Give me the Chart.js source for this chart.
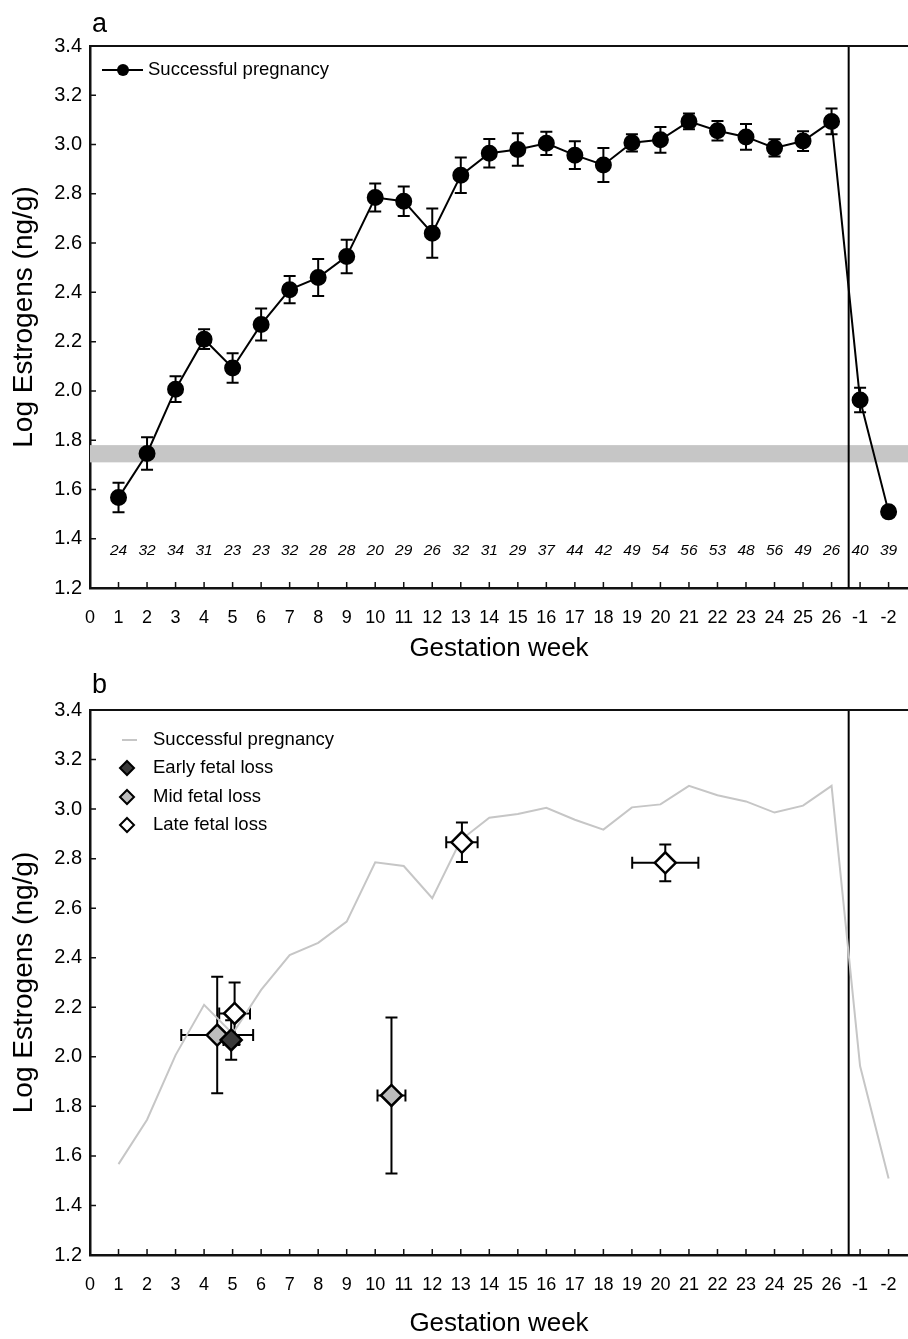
<!DOCTYPE html>
<html>
<head>
<meta charset="utf-8">
<script src="https://cdn.jsdelivr.net/npm/chart.js@4.4.0/dist/chart.umd.min.js"></script>
<style>
  html, body { margin: 0; padding: 0; background: #fff; }
  .panel { position: absolute; left: 0; }
</style>
</head>
<body>
<div class="panel" style="top:0"><canvas id="chartA" width="908" height="664"></canvas></div>
<div class="panel" style="top:664px"><canvas id="chartB" width="908" height="675"></canvas></div>
<script>
// tick labels along the x axis (position 0..28)
const weekLabels = ["0", "1", "2", "3", "4", "5", "6", "7", "8", "9", "10", "11", "12", "13",
  "14", "15", "16", "17", "18", "19", "20", "21", "22", "23", "24", "25", "26", "-1", "-2"];

// successful pregnancy: weeks 1..26 then -1, -2 (post partum)
const meanLogE = [1.567, 1.746, 2.007, 2.21, 2.093, 2.27, 2.411, 2.46, 2.546, 2.785, 2.77, 2.64,
  2.875, 2.965, 2.98, 3.005, 2.957, 2.917, 3.007, 3.019, 3.094, 3.056, 3.031, 2.986, 3.014, 3.094,
  1.963, 1.509];
const semLogE = [0.06, 0.066, 0.052, 0.04, 0.06, 0.065, 0.055, 0.075, 0.068, 0.057, 0.06, 0.1,
  0.072, 0.058, 0.066, 0.047, 0.056, 0.069, 0.035, 0.052, 0.032, 0.04, 0.052, 0.035, 0.04, 0.052,
  0.05, 0.015];
const nCounts = [24, 32, 34, 31, 23, 23, 32, 28, 28, 20, 29, 26, 32, 31, 29, 37, 44, 42, 49, 54,
  56, 53, 48, 56, 49, 26, 40, 39];

// fetal loss groups (panel b)
const earlyWeek = [4.95], earlyLogE = [2.068], earlyWeekErr = [0.27], earlyLogErr = [0.08];
const midWeek = [4.46, 10.57], midLogE = [2.088, 1.844], midWeekErr = [1.26, 0.49], midLogErr = [0.235, 0.315];
const lateWeek = [5.07, 13.04, 20.17], lateLogE = [2.175, 2.866, 2.783];
const lateWeekErr = [0.54, 0.55, 1.16], lateLogErr = [0.125, 0.08, 0.074];

// baseline (non-pregnant) band and the delivery boundary
const bandLow = 1.71, bandHigh = 1.78;
const boundary = 26.6;
const nLabelLevel = 1.352;

const FONT = "'Liberation Sans', Arial, sans-serif";
const succPts = meanLogE.map((v, i) => ({ x: i + 1, y: v }));
const toPts = (xs, ys) => xs.map((x, i) => ({ x: x, y: ys[i] }));

function makeDecor(cfg) {
  return {
    id: "decor",
    beforeDatasetsDraw(chart) {
      const { ctx, chartArea: a, scales: { x, y } } = chart;
      ctx.save();
      if (cfg.band) {
        const yt = y.getPixelForValue(bandHigh), yb = y.getPixelForValue(bandLow);
        ctx.fillStyle = "#c6c6c6";
        ctx.fillRect(a.left, yt, a.right - a.left, yb - yt);
      }
      // boundary between pregnancy weeks and post-partum weeks
      const bx = x.getPixelForValue(boundary);
      ctx.strokeStyle = "#000";
      ctx.lineWidth = 2;
      ctx.beginPath();
      ctx.moveTo(bx, a.top);
      ctx.lineTo(bx, a.bottom);
      ctx.stroke();

      // error bars, drawn behind the markers
      ctx.lineWidth = 2;
      chart.data.datasets.forEach(ds => {
        ds.data.forEach((p, i) => {
          const px = x.getPixelForValue(p.x), py = y.getPixelForValue(p.y);
          const cap = 6;
          if (ds.errY) {
            const t = y.getPixelForValue(p.y + ds.errY[i]), b = y.getPixelForValue(p.y - ds.errY[i]);
            ctx.beginPath();
            ctx.moveTo(px, t); ctx.lineTo(px, b);
            ctx.moveTo(px - cap, t); ctx.lineTo(px + cap, t);
            ctx.moveTo(px - cap, b); ctx.lineTo(px + cap, b);
            ctx.stroke();
          }
          if (ds.errX) {
            const l = x.getPixelForValue(p.x - ds.errX[i]), r = x.getPixelForValue(p.x + ds.errX[i]);
            ctx.beginPath();
            ctx.moveTo(l, py); ctx.lineTo(r, py);
            ctx.moveTo(l, py - cap); ctx.lineTo(l, py + cap);
            ctx.moveTo(r, py - cap); ctx.lineTo(r, py + cap);
            ctx.stroke();
          }
        });
      });
      ctx.restore();
    },
    afterDraw(chart) {
      const { ctx, chartArea: a, scales: { x, y } } = chart;
      ctx.save();
      ctx.strokeStyle = "#111";
      ctx.lineWidth = 2;
      // top frame line
      ctx.beginPath();
      ctx.moveTo(a.left, a.top);
      ctx.lineTo(a.right, a.top);
      ctx.stroke();
      // inward tick marks
      ctx.lineWidth = 1.5;
      ctx.beginPath();
      weekLabels.forEach((_, i) => {
        const px = x.getPixelForValue(i);
        ctx.moveTo(px, a.bottom);
        ctx.lineTo(px, a.bottom - 6);
      });
      y.ticks.forEach(t => {
        const py = y.getPixelForValue(t.value);
        ctx.moveTo(a.left, py);
        ctx.lineTo(a.left + 6, py);
      });
      ctx.stroke();

      ctx.fillStyle = "#000";
      if (cfg.counts) {
        ctx.font = "italic 15.5px " + FONT;
        ctx.textAlign = "center";
        ctx.textBaseline = "middle";
        nCounts.forEach((n, i) => {
          ctx.fillText(String(n), x.getPixelForValue(i + 1), y.getPixelForValue(nLabelLevel));
        });
      }
      // panel letter
      ctx.font = "27px " + FONT;
      ctx.textAlign = "left";
      ctx.textBaseline = "alphabetic";
      ctx.fillText(cfg.letter, 92, cfg.letterY);

      // legend
      ctx.font = "18.5px " + FONT;
      ctx.textBaseline = "middle";
      cfg.legend.forEach(item => {
        if (item.kind === "lineDot") {
          ctx.strokeStyle = "#000";
          ctx.lineWidth = 2;
          ctx.beginPath();
          ctx.moveTo(102, item.y); ctx.lineTo(143, item.y);
          ctx.stroke();
          ctx.beginPath();
          ctx.arc(123, item.y, 6, 0, Math.PI * 2);
          ctx.fill();
          ctx.fillText(item.text, 148, item.y);
        } else if (item.kind === "line") {
          ctx.strokeStyle = "#c6c6c6";
          ctx.lineWidth = 2;
          ctx.beginPath();
          ctx.moveTo(122, item.y); ctx.lineTo(137, item.y);
          ctx.stroke();
          ctx.fillText(item.text, 153, item.y);
        } else {
          const r = 7;
          ctx.beginPath();
          ctx.moveTo(127, item.y - r); ctx.lineTo(127 + r, item.y);
          ctx.lineTo(127, item.y + r); ctx.lineTo(127 - r, item.y);
          ctx.closePath();
          ctx.fillStyle = item.fill;
          ctx.fill();
          ctx.strokeStyle = "#000";
          ctx.lineWidth = 2;
          ctx.stroke();
          ctx.fillStyle = "#000";
          ctx.fillText(item.text, 153, item.y);
        }
      });
      ctx.restore();
    }
  };
}

function scalesFor(xAxisHeight) {
  return {
    x: {
      type: "linear",
      min: 0,
      max: 28.68,
      afterBuildTicks: s => { s.ticks = weekLabels.map((_, i) => ({ value: i })); },
      afterFit: s => { s.height = xAxisHeight; s.paddingLeft = 0; s.paddingRight = 0; },
      grid: { drawOnChartArea: false, drawTicks: false },
      border: { display: true, color: "#111", width: 2.5 },
      ticks: {
        autoSkip: false, maxRotation: 0, padding: 19, color: "#000",
        font: { family: FONT, size: 18 },
        callback: v => weekLabels[v] ?? ""
      },
      title: {
        display: true, text: "Gestation week", color: "#000",
        font: { family: FONT, size: 26 }, padding: { top: 0, bottom: 0 }
      }
    },
    y: {
      min: 1.2,
      max: 3.4,
      afterFit: s => { s.width = 90; },
      grid: { drawOnChartArea: false, drawTicks: false },
      border: { display: true, color: "#111", width: 2.5 },
      ticks: {
        stepSize: 0.2, padding: 8, color: "#000",
        font: { family: FONT, size: 20 },
        callback: v => v.toFixed(1)
      },
      title: {
        display: true, text: "Log Estrogens (ng/g)", color: "#000",
        font: { family: FONT, size: 28 }, padding: { top: 7, bottom: 0 }
      }
    }
  };
}

const baseOptions = (xAxisHeight) => ({
  responsive: false,
  animation: false,
  layout: { autoPadding: false, padding: { top: 46, left: 0, right: 0, bottom: 0 } },
  plugins: { legend: { display: false }, tooltip: { enabled: false } },
  scales: scalesFor(xAxisHeight)
});

new Chart(document.getElementById("chartA"), {
  type: "scatter",
  data: {
    datasets: [{
      label: "Successful pregnancy",
      data: succPts,
      errY: semLogE,
      showLine: true,
      borderColor: "#000",
      borderWidth: 2,
      pointRadius: 7.5,
      pointBackgroundColor: "#000",
      pointBorderColor: "#000"
    }]
  },
  options: baseOptions(76),
  plugins: [makeDecor({
    band: true, counts: true, letter: "a", letterY: 32,
    legend: [{ kind: "lineDot", y: 70, text: "Successful pregnancy" }]
  })]
});

const diamond = (fill) => ({
  pointStyle: "rectRot",
  pointRadius: 10.5,
  pointBackgroundColor: fill,
  pointBorderColor: "#000",
  pointBorderWidth: 2.5,
  showLine: false
});

new Chart(document.getElementById("chartB"), {
  type: "scatter",
  data: {
    datasets: [
      Object.assign({ label: "Late fetal loss", data: toPts(lateWeek, lateLogE), errX: lateWeekErr, errY: lateLogErr }, diamond("#ffffff")),
      Object.assign({ label: "Early fetal loss", data: toPts(earlyWeek, earlyLogE), errX: earlyWeekErr, errY: earlyLogErr }, diamond("#3a3a3a")),
      Object.assign({ label: "Mid fetal loss", data: toPts(midWeek, midLogE), errX: midWeekErr, errY: midLogErr }, diamond("#bdbdbd")),
      {
        label: "Successful pregnancy",
        data: succPts,
        showLine: true,
        borderColor: "#c6c6c6",
        borderWidth: 2,
        pointRadius: 0
      }
    ]
  },
  options: baseOptions(84),
  plugins: [makeDecor({
    band: false, counts: false, letter: "b", letterY: 29,
    legend: [
      { kind: "line", y: 76, text: "Successful pregnancy" },
      { kind: "diamond", y: 104, fill: "#3a3a3a", text: "Early fetal loss" },
      { kind: "diamond", y: 133, fill: "#bdbdbd", text: "Mid fetal loss" },
      { kind: "diamond", y: 161, fill: "#ffffff", text: "Late fetal loss" }
    ]
  })]
});
</script>
</body>
</html>
